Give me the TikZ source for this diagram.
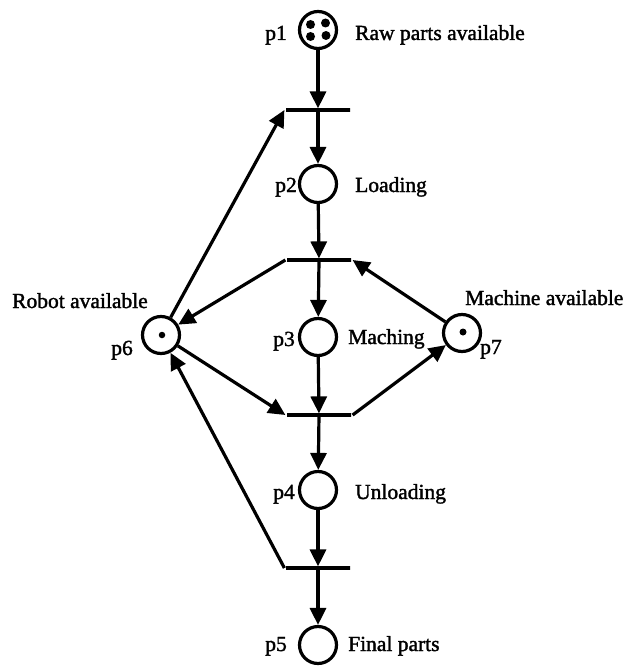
\documentclass[tikz,border=0pt]{standalone}
\usepackage{fontspec}
\setmainfont{Liberation Serif}
\newfontfamily\lblfont[FakeBold=1.6]{Liberation Serif}
\usetikzlibrary{arrows.meta}
\begin{document}
\begin{tikzpicture}[x=1pt,y=-1pt,
  every node/.style={font=\lblfont\fontsize{21.5}{25}\selectfont},
  place/.style={circle, draw, line width=3.2pt, minimum size=37pt, inner sep=0pt},
  transbar/.style={rectangle, draw, fill, line width=3.2pt, minimum width=64pt,
    minimum height=0pt, inner sep=0pt},
  arc/.style={line width=3.2pt, -{Triangle[length=17pt,width=16pt]}},
  token/.style={circle, fill, inner sep=0pt, minimum size=9pt},
  lbl/.style={inner sep=0pt}]
\useasboundingbox (0,0) rectangle (631,666);

% places
\node[place] (p1) at (318,30) {};
\node[place] (p2) at (318,184) {};
\node[place] (p3) at (318,337) {};
\node[place] (p4) at (318,490) {};
\node[place] (p5) at (318,645) {};
\node[place] (p6) at (161,335) {};
\node[place] (p7) at (462,333) {};

% transitions
\node[transbar] (t1) at (318,110) {};
\node[transbar] (t2) at (319,260) {};
\node[transbar] (t3) at (319,415) {};
\node[transbar] (t4) at (318,568) {};

% tokens
\node[token] (k1) at (310.5,24.5) {};
\node[token] (k2) at (325.5,23) {};
\node[token] (k3) at (310.5,36.5) {};
\node[token] (k4) at (326,35.5) {};
\node[token, minimum size=6.5pt] (k6) at (162,335) {};
\node[token, minimum size=7pt] (k7) at (463,332) {};

% main flow
\draw[arc] (p1) -- (t1);
\draw[arc] (t1) -- (p2);
\draw[arc] (p2) -- (t2);
\draw[arc] (t2) -- (p3);
\draw[arc] (p3) -- (t3);
\draw[arc] (t3) -- (p4);
\draw[arc] (p4) -- (t4);
\draw[arc] (t4) -- (p5);

% robot and machine resources
\draw[arc] (p6) -- (t1.west);
\draw[arc] (t2.west) -- (p6);
\draw[arc] (p7) -- (t2.east);
\draw[arc] (p6) -- (t3.west);
\draw[arc] (t3.east) -- (p7);
\draw[arc] (t4.west) -- (p6);

% labels
\node[lbl, anchor=base east] (l1) at (287,40) {p1};
\node[lbl, anchor=base west] (n1) at (355,40) {Raw parts available};
\node[lbl, anchor=base east] (l2) at (297,192) {p2};
\node[lbl, anchor=base west] (n2) at (355,192) {Loading};
\node[lbl, anchor=base east] (l3) at (295,346) {p3};
\node[lbl, anchor=base west] (n3) at (348,344) {Maching};
\node[lbl, anchor=base east] (l4) at (295,499) {p4};
\node[lbl, anchor=base west] (n4) at (355,499) {Unloading};
\node[lbl, anchor=base east] (l5) at (287,651) {p5};
\node[lbl, anchor=base west] (n5) at (348,651) {Final parts};
\node[lbl, anchor=base west] (n6) at (12,308) {Robot available};
\node[lbl, anchor=base east] (l6) at (133,355) {p6};
\node[lbl, anchor=base west] (n7) at (465,305) {Machine available};
\node[lbl, anchor=base west] (l7) at (480,354) {p7};
\end{tikzpicture}
\end{document}
